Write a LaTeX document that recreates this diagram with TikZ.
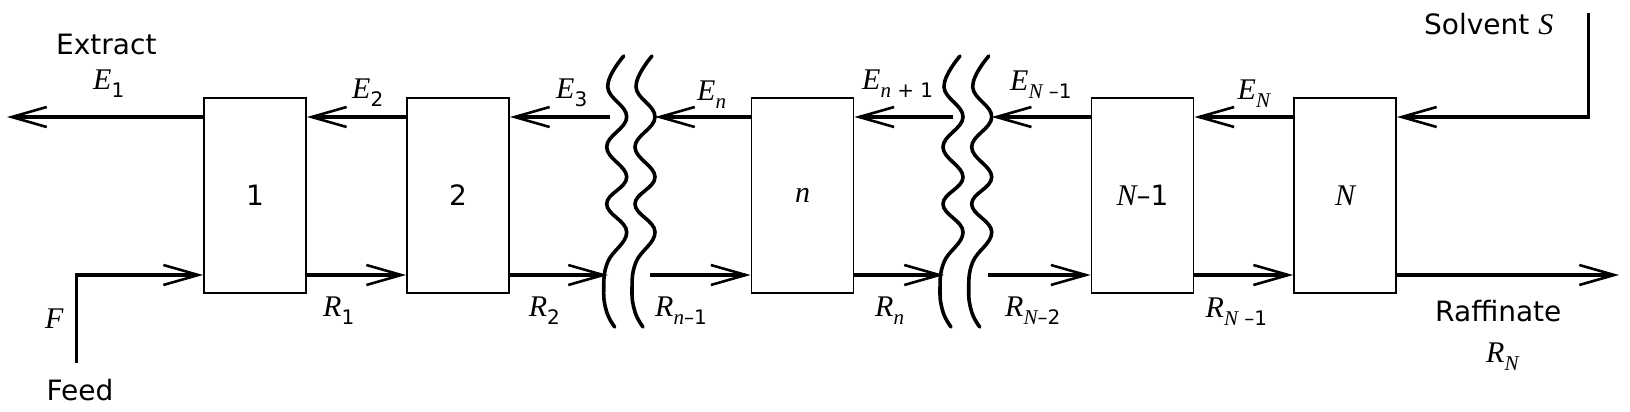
\documentclass[tikz,border=0pt]{standalone}
\usepackage{fontspec}
\setmainfont{DejaVu Sans}
\newfontfamily\itx{Liberation Serif}
\usetikzlibrary{arrows.meta,calc}
\newcommand\mv[1]{{\itx\itshape\fontsize{30}{34}\selectfont #1}}
\newcommand\sv[1]{{\itx\itshape\fontsize{21}{24}\selectfont #1}}
\newcommand\lsub[1]{\raisebox{-8.5pt}{\fontsize{20}{22}\selectfont #1}}
\newcommand\wavyline[1]{%
  \begin{scope}[xshift=#1pt]
    \draw[wavy] plot[smooth,tension=0.7] coordinates {(7,56) (-9,87) (10,117) (-10,147) (10,177) (-10,204) (10,232) (-9,262) (-13,290) (-10,312) (-2,327)};
  \end{scope}}
\tikzset{
  stage/.style={draw, line width=1.8pt, minimum width=102pt, minimum height=195pt, inner sep=0pt, font=\fontsize{28}{30}\selectfont},
  flow/.style={line width=3.2pt, line join=miter, -{Straight Barb[length=35pt,width=20pt,line width=2.6pt]}},
  wavy/.style={line width=3.6pt, line cap=round},
  lbl/.style={anchor=base west, inner sep=0pt, font=\fontsize{28}{30}\selectfont}
}
\begin{document}
\begin{tikzpicture}[x=1pt,y=-1pt]
\useasboundingbox (0,0) rectangle (1630,412);
% stages
\node[stage] (b1) at (255,195.5) {1};
\node[stage] (b2) at (458,195.5) {2};
\node[stage] (bn) at (802.5,195.5) {\mv{n}};
\node[stage] (bN1) at (1142.5,195.5) {\mv{N}–1};
\node[stage] (bN) at (1345,195.5) {\mv{N}};
% reference levels and free ends
\coordinate (T) at (0,117);
\coordinate (B) at (0,275);
\coordinate (ext) at (7,117);
\coordinate (e3s) at (610,117);
\coordinate (ent) at (655,117);
\coordinate (en1s) at (953,117);
\coordinate (eN1t) at (991.7,117);
\coordinate (solv) at (1588.5,13);
\coordinate (feed) at (76.7,363);
\coordinate (r2t) at (608,275);
\coordinate (rn1s) at (650,275);
\coordinate (rnt) at (944,275);
\coordinate (rN2s) at (988,275);
\coordinate (raf) at (1619,275);
% breaks
\wavyline{616.7}
\wavyline{645}
\wavyline{953}
\wavyline{981.7}
% extract streams
\draw[flow] (b1.west |- T) -- (ext);
\draw[flow] (b2.west |- T) -- (b1.east |- T);
\draw[flow] (e3s) -- (b2.east |- T);
\draw[flow] (bn.west |- T) -- (ent);
\draw[flow] (en1s) -- (bn.east |- T);
\draw[flow] (bN1.west |- T) -- (eN1t);
\draw[flow] (bN.west |- T) -- (bN1.east |- T);
\draw[flow] (solv) |- (bN.east |- T);
% raffinate streams
\draw[flow] (feed) |- (b1.west |- B);
\draw[flow] (b1.east |- B) -- (b2.west |- B);
\draw[flow] (b2.east |- B) -- (r2t);
\draw[flow] (rn1s) -- (bn.west |- B);
\draw[flow] (bn.east |- B) -- (rnt);
\draw[flow] (rN2s) -- (bN1.west |- B);
\draw[flow] (bN1.east |- B) -- (bN.west |- B);
\draw[flow] (bN.east |- B) -- (raf);
% labels
\node[lbl] (lext) at (56,55) {Extract};
\node[lbl] (le1) at (93,89.3) {\mv{E}\lsub{1}};
\node[lbl] (le2) at (352,98.3) {\mv{E}\lsub{2}};
\node[lbl] (le3) at (556,98.3) {\mv{E}\lsub{3}};
\node[lbl] (len) at (697,100) {\mv{E}\lsub{\sv{n}}};
\node[lbl] (len1) at (862,89.3) {\mv{E}\lsub{\sv{n} + 1}};
\node[lbl] (leN1) at (1010,90) {\mv{E}\lsub{\sv{N} –1}};
\node[lbl] (leN) at (1237.5,99.3) {\mv{E}\lsub{\sv{N}}};
\node[lbl] (lsolv) at (1424,35) {Solvent \mv{S}};
\node[lbl] (lr1) at (323,316) {\mv{R}\lsub{1}};
\node[lbl] (lr2) at (528.6,316) {\mv{R}\lsub{2}};
\node[lbl] (lrn1) at (655,316) {\mv{R}\lsub{\sv{n}–1}};
\node[lbl] (lrn) at (875,316) {\mv{R}\lsub{\sv{n}}};
\node[lbl] (lrN2) at (1005,316) {\mv{R}\lsub{\sv{N}–2}};
\node[lbl] (lrN1) at (1205.5,317) {\mv{R}\lsub{\sv{N} –1}};
\node[lbl] (lraf) at (1435,321.7) {Raffinate};
\node[lbl] (lrN) at (1486,362) {\mv{R}\lsub{\sv{N}}};
\node[lbl] (lf) at (45,328) {\mv{F}};
\node[lbl] (lfeed) at (46.4,400) {Feed};
\end{tikzpicture}
\end{document}
